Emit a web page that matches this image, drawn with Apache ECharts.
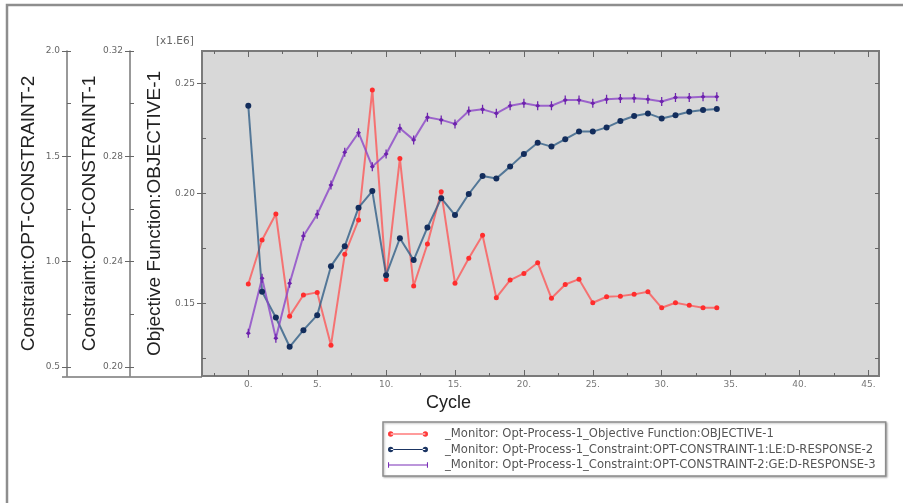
<!DOCTYPE html>
<html>
<head>
<meta charset="utf-8">
<script src="https://cdn.jsdelivr.net/npm/echarts@6/dist/echarts.min.js"></script>
<style>
  html, body { margin: 0; padding: 0; background: #ffffff; }
  #chart { width: 903px; height: 503px; }
</style>
</head>
<body>
<div id="chart"></div>
<script>
// Optimisation history: cycle number against objective and constraint responses
const cycles = [0,1,2,3,4,5,6,7,8,9,10,11,12,13,14,15,16,17,18,19,20,21,22,23,24,25,26,27,28,29,30,31,32,33,34];

// Objective Function:OBJECTIVE-1 (x1.E6)
const objective1 = [0.1588,0.1788,0.1906,0.1442,0.1538,0.1550,0.1310,0.1723,0.1879,0.2470,
                    0.1609,0.2159,0.1579,0.1770,0.2007,0.1591,0.1705,0.1810,0.1526,0.1606,
                    0.1636,0.1685,0.1523,0.1586,0.1610,0.1503,0.1530,0.1533,0.1541,0.1553,
                    0.1480,0.1503,0.1491,0.1480,0.1480];

// Constraint:OPT-CONSTRAINT-1
const constraint1 = [0.2992,0.2286,0.2188,0.2077,0.2140,0.2197,0.2383,0.2459,0.2605,0.2668,
                     0.2349,0.2489,0.2406,0.2530,0.2641,0.2577,0.2657,0.2725,0.2716,0.2761,
                     0.2809,0.2852,0.2837,0.2865,0.2894,0.2894,0.2910,0.2934,0.2953,0.2963,
                     0.2944,0.2956,0.2969,0.2976,0.2980];

// Constraint:OPT-CONSTRAINT-2
const constraint2 = [0.660,0.921,0.636,0.897,1.122,1.225,1.364,1.519,1.612,1.451,
                     1.511,1.633,1.578,1.685,1.673,1.654,1.715,1.723,1.704,1.740,
                     1.752,1.740,1.740,1.767,1.767,1.752,1.771,1.774,1.776,1.771,
                     1.760,1.779,1.779,1.783,1.783];

// Tick positions
const xMajor = [0,5,10,15,20,25,30,35,40,45];
const xMinor = [-2.5,2.5,7.5,12.5,17.5,22.5,27.5,32.5,37.5,42.5];
const objMajor = [0.15,0.20,0.25];
const objAll = [0.125,0.15,0.175,0.20,0.225,0.25];
const c1Major = [0.20,0.24,0.28,0.32];
const c1All = [0.20,0.22,0.24,0.26,0.28,0.30,0.32];
const c2Major = [0.5,1.0,1.5,2.0];
const c2All = [0.5,0.75,1.0,1.25,1.5,1.75,2.0];

const seriesNames = [
  '_Monitor: Opt-Process-1_Objective Function:OBJECTIVE-1',
  '_Monitor: Opt-Process-1_Constraint:OPT-CONSTRAINT-1:LE:D-RESPONSE-2',
  '_Monitor: Opt-Process-1_Constraint:OPT-CONSTRAINT-2:GE:D-RESPONSE-3'
];

const pairs = vals => cycles.map((c, i) => [c, vals[i]]);

const labelFont = { fontFamily: 'DejaVu Sans', fontSize: 9, color: '#666' };
const titleFont = { fontFamily: 'Liberation Sans', fontSize: 19, color: '#222' };
const tickColor = '#666';

function tickOnlyAxis(base) {
  return Object.assign({
    type: 'value',
    axisLine: { show: false, onZero: false },
    splitLine: { show: false },
    axisLabel: { show: false }
  }, base);
}

const circleIcon = 'path://M0,4a4,4 0 1,0 8,0a4,4 0 1,0 -8,0Z M52,4a4,4 0 1,0 8,0a4,4 0 1,0 -8,0Z M4,3.2L56,3.2L56,4.8L4,4.8Z';
const barIcon = 'path://M0,0L1.6,0L1.6,8L0,8Z M58.4,0L60,0L60,8L58.4,8Z M1,3.2L59,3.2L59,4.8L1,4.8Z';
const purpleSymbol = 'path://M-0.5,-5L0.5,-5L0.5,-2L2,0L0.5,2L0.5,5L-0.5,5L-0.5,2L-2,0L-0.5,-2Z';

const chart = echarts.init(document.getElementById('chart'));

chart.setOption({
  animation: false,
  backgroundColor: '#ffffff',
  grid: {
    left: 202, right: 24, top: 51, bottom: 127,
    show: true,
    backgroundColor: '#d8d8d8',
    borderColor: '#7a7a7a',
    borderWidth: 2
  },
  xAxis: [
    {
      type: 'value', min: -3.36, max: 45.77, position: 'bottom',
      axisLine: { show: false, onZero: false }, splitLine: { show: false },
      axisTick: { show: true, inside: true, length: 6, customValues: xMajor, lineStyle: { color: tickColor } },
      axisLabel: { customValues: xMajor, formatter: v => v + '.', margin: 4, ...labelFont, color: '#777' }
    },
    tickOnlyAxis({ min: -3.36, max: 45.77, position: 'bottom',
      axisTick: { show: true, inside: true, length: 3, customValues: xMinor, lineStyle: { color: tickColor } } }),
    tickOnlyAxis({ min: -3.36, max: 45.77, position: 'top',
      axisTick: { show: true, inside: true, length: 6, customValues: xMajor, lineStyle: { color: tickColor } } }),
    tickOnlyAxis({ min: -3.36, max: 45.77, position: 'top',
      axisTick: { show: true, inside: true, length: 3, customValues: xMinor, lineStyle: { color: tickColor } } })
  ],
  yAxis: [
    // 0: objective scale
    {
      type: 'value', min: 0.117, max: 0.2647, position: 'left', offset: 0,
      axisLine: { show: false, onZero: false }, splitLine: { show: false },
      axisTick: { show: true, length: 5, customValues: objMajor, lineStyle: { color: tickColor } },
      axisLabel: { customValues: objMajor, formatter: v => v.toFixed(2), margin: 7, ...labelFont },
      name: 'Objective Function:OBJECTIVE-1', nameLocation: 'middle', nameGap: 38,
      nameMoveOverlap: false,
      nameTextStyle: titleFont
    },
    tickOnlyAxis({ min: 0.117, max: 0.2647, position: 'left', offset: 0,
      axisTick: { show: true, inside: true, length: 4, customValues: objAll, lineStyle: { color: tickColor } } }),
    tickOnlyAxis({ min: 0.117, max: 0.2647, position: 'right', offset: 0,
      axisTick: { show: true, inside: true, length: 4, customValues: objAll, lineStyle: { color: tickColor } } }),
    // 3: constraint 1 scale
    {
      type: 'value', min: 0.1966, max: 0.32, position: 'left', offset: 72,
      axisLine: { show: true, onZero: false, lineStyle: { color: '#777', width: 1.5 } },
      splitLine: { show: false },
      axisTick: { show: true, length: 5, customValues: c1Major, lineStyle: { color: tickColor } },
      axisLabel: { customValues: c1Major, formatter: v => v.toFixed(2), margin: 7, ...labelFont },
      name: 'Constraint:OPT-CONSTRAINT-1', nameLocation: 'middle', nameGap: 31,
      nameMoveOverlap: false,
      nameTextStyle: titleFont
    },
    tickOnlyAxis({ min: 0.1966, max: 0.32, position: 'left', offset: 72,
      axisTick: { show: true, inside: true, length: 4, customValues: c1All, lineStyle: { color: tickColor } } }),
    // 5: constraint 2 scale
    {
      type: 'value', min: 0.457, max: 2.0, position: 'left', offset: 135,
      axisLine: { show: true, onZero: false, lineStyle: { color: '#777', width: 1.5 } },
      splitLine: { show: false },
      axisTick: { show: true, length: 5, customValues: c2Major, lineStyle: { color: tickColor } },
      axisLabel: { customValues: c2Major, formatter: v => v.toFixed(1), margin: 7, ...labelFont },
      name: 'Constraint:OPT-CONSTRAINT-2', nameLocation: 'middle', nameGap: 28.5,
      nameMoveOverlap: false,
      nameTextStyle: titleFont
    },
    tickOnlyAxis({ min: 0.457, max: 2.0, position: 'left', offset: 135,
      axisTick: { show: true, inside: true, length: 4, customValues: c2All, lineStyle: { color: tickColor } } })
  ],
  legend: {
    orient: 'vertical',
    left: 383, top: 422,
    itemWidth: 40, itemHeight: 6, itemGap: 3.5,
    padding: [6, 10, 5, 5],
    borderColor: '#8c8c8c', borderWidth: 1.5,
    backgroundColor: '#ffffff',
    shadowColor: 'rgba(0,0,0,0.25)', shadowBlur: 2, shadowOffsetX: 1, shadowOffsetY: 1,
    textStyle: { fontFamily: 'DejaVu Sans', fontSize: 11.6, color: '#555', padding: [0, 0, 0, 12] },
    data: [
      { name: seriesNames[0], icon: circleIcon, itemStyle: { color: '#ff3b3b' } },
      { name: seriesNames[1], icon: circleIcon, itemStyle: { color: '#1b3563' } },
      { name: seriesNames[2], icon: barIcon, itemStyle: { color: '#7a2fb8' } }
    ]
  },
  graphic: [
    { type: 'polyline', silent: true,
      shape: { points: [[7, 503], [7, 5], [903, 5]] },
      style: { stroke: '#8e8e8e', lineWidth: 2.5, fill: null } },
    { type: 'line', silent: true,
      shape: { x1: 62, y1: 377, x2: 202, y2: 377 },
      style: { stroke: '#777', lineWidth: 1.5 } },
    { type: 'text', left: 156, top: 36,
      style: { text: '[x1.E6]', fontFamily: 'DejaVu Sans', fontSize: 10.5, fill: '#666' } },
    { type: 'text', left: 426, top: 394,
      style: { text: 'Cycle', fontFamily: 'Liberation Sans', fontSize: 18, fill: '#222' } }
  ],
  series: [
    {
      name: seriesNames[0], type: 'line', xAxisIndex: 0, yAxisIndex: 0,
      data: pairs(objective1),
      symbol: 'circle', symbolSize: 5,
      itemStyle: { color: '#ff2d2d' },
      lineStyle: { color: 'rgba(255,80,80,0.75)', width: 2 }
    },
    {
      name: seriesNames[1], type: 'line', xAxisIndex: 0, yAxisIndex: 3,
      data: pairs(constraint1),
      symbol: 'circle', symbolSize: 6,
      itemStyle: { color: '#132d5c' },
      lineStyle: { color: 'rgba(50,95,135,0.8)', width: 2 }
    },
    {
      name: seriesNames[2], type: 'line', xAxisIndex: 0, yAxisIndex: 5,
      data: pairs(constraint2),
      symbol: purpleSymbol, symbolSize: [5, 9],
      itemStyle: { color: '#6d22ad' },
      lineStyle: { color: 'rgba(140,70,200,0.8)', width: 2 }
    }
  ]
});
</script>
</body>
</html>
